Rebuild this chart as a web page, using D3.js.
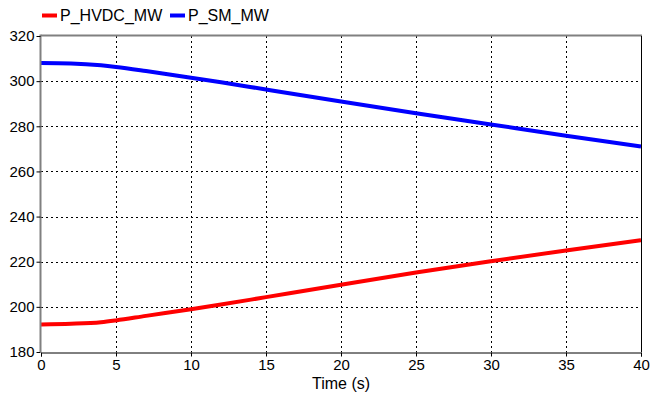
<!DOCTYPE html>
<html>
<head>
<meta charset="utf-8">
<script src="https://cdn.jsdelivr.net/npm/d3@7"></script>
<style>
  html, body { margin: 0; padding: 0; background: #fff; }
  svg { display: block; font-family: "Liberation Sans", Arial, sans-serif; }
</style>
</head>
<body>
<svg id="chart" width="662" height="394"></svg>
<script>
// Time axis (s) and power traces (MW)
const timeS = [0, 2, 4, 5, 7, 10, 12, 15, 20, 25, 30, 35, 40];
const pHvdcMW = [192.2, 192.5, 193.2, 194.0, 196.0, 198.9, 201.0, 204.3, 209.8, 215.2, 220.2, 225.0, 229.5];
const pSmMW = [308.0, 307.8, 307.0, 306.3, 304.5, 301.5, 299.5, 296.3, 291.0, 285.8, 280.8, 275.8, 271.0];
const xTicks = [0, 5, 10, 15, 20, 25, 30, 35, 40];
const yTicks = [180, 200, 220, 240, 260, 280, 300, 320];
const seriesNames = ["P_HVDC_MW", "P_SM_MW"];
const seriesColors = ["#ff0000", "#0000ff"];

const svg = d3.select("#chart");
const L = 41, R = 641, T = 36, B = 352;

const x = d3.scaleLinear().domain([0, 40]).range([L, R]);
const y = d3.scaleLinear().domain([180, 320]).range([B, T]);

// dotted grid
const grid = svg.append("g");
grid.selectAll("line.vx").data(xTicks.slice(1, -1)).join("line")
  .attr("x1", d => Math.round(x(d)) + 0.5).attr("x2", d => Math.round(x(d)) + 0.5)
  .attr("y1", T).attr("y2", B)
  .attr("stroke", "#000").attr("stroke-width", 1).attr("stroke-dasharray", "2,3");
grid.selectAll("line.hy").data(yTicks.slice(1, -1)).join("line")
  .attr("y1", d => Math.round(y(d)) + 0.5).attr("y2", d => Math.round(y(d)) + 0.5)
  .attr("x1", L).attr("x2", R)
  .attr("stroke", "#000").attr("stroke-width", 1).attr("stroke-dasharray", "2,3");

// traces
const line = d3.line().x((d, i) => x(timeS[i])).y(d => y(d)).curve(d3.curveMonotoneX);
[pHvdcMW, pSmMW].forEach((vals, k) => {
  svg.append("path").datum(vals)
    .attr("d", line)
    .attr("fill", "none")
    .attr("stroke", seriesColors[k])
    .attr("stroke-width", 4)
    .attr("stroke-linejoin", "round");
});

// frame: top/left gray, bottom/right black
svg.append("line").attr("x1", L).attr("x2", R + 1).attr("y1", T - 0.5).attr("y2", T - 0.5)
  .attr("stroke", "#808080").attr("stroke-width", 2);
svg.append("line").attr("x1", L - 0.5).attr("x2", L - 0.5).attr("y1", T - 1.5).attr("y2", B)
  .attr("stroke", "#808080").attr("stroke-width", 2);
svg.append("line").attr("x1", R + 0.5).attr("x2", R + 0.5).attr("y1", T).attr("y2", B)
  .attr("stroke", "#000").attr("stroke-width", 1);

// axes
const xAxis = d3.axisBottom(x).tickValues(xTicks).tickSize(4).tickPadding(3).tickFormat(d3.format("d"));
const gx = svg.append("g").attr("transform", `translate(0,${B + 0.5})`).call(xAxis);
gx.select(".domain").attr("stroke", "#000");
gx.selectAll(".tick line").attr("stroke", "#000");
gx.selectAll("text").attr("font-size", 15).attr("fill", "#000")
  .attr("font-family", "Liberation Sans, Arial, sans-serif");

const yAxis = d3.axisLeft(y).tickValues(yTicks).tickSize(4).tickPadding(2).tickFormat(d3.format("d"));
const gy = svg.append("g").attr("transform", `translate(${L - 0.5},0)`).call(yAxis);
gy.select(".domain").remove();
gy.selectAll(".tick line").attr("stroke", "#000");
gy.selectAll("text").attr("font-size", 15).attr("fill", "#000")
  .attr("font-family", "Liberation Sans, Arial, sans-serif");

// axis title
svg.append("text").attr("x", (L + R) / 2).attr("y", 389)
  .attr("text-anchor", "middle").attr("font-size", 16).attr("fill", "#000")
  .text("Time (s)");

// legend
const legendX = [42, 170];
seriesNames.forEach((name, k) => {
  svg.append("line").attr("x1", legendX[k]).attr("x2", legendX[k] + 15)
    .attr("y1", 15.5).attr("y2", 15.5)
    .attr("stroke", seriesColors[k]).attr("stroke-width", 4);
  svg.append("text").attr("x", legendX[k] + 18).attr("y", 21)
    .attr("font-size", 16).attr("fill", "#000").text(name);
});
</script>
</body>
</html>
